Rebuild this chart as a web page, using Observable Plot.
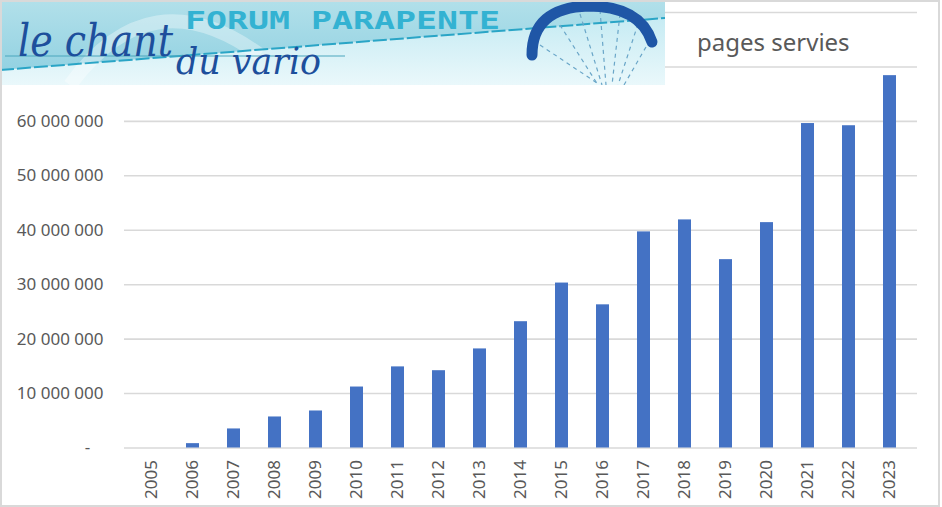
<!DOCTYPE html>
<html>
<head>
<meta charset="utf-8">
<script src="https://cdn.jsdelivr.net/npm/d3@7"></script>
<script src="https://cdn.jsdelivr.net/npm/@observablehq/plot@0.6"></script>
<style>
  html, body { margin: 0; padding: 0; background: #fff; }
  #wrap { position: relative; width: 942px; height: 507px; overflow: hidden; font-family: "Noto Sans", sans-serif; }
  #frame { position: absolute; left: 0; top: 0; width: 940px; height: 507px; box-sizing: border-box; border: 2px solid #d9d9d9; pointer-events: none; }
  #chart { position: absolute; left: 0; top: 0; }
  #banner { position: absolute; left: 0; top: 0; }
  #title { position: absolute; left: 697px; top: 25px; font-size: 24px; color: #595959; font-family: "Noto Sans", sans-serif; white-space: nowrap; }
</style>
</head>
<body>
<div id="wrap">
  <div id="chart"></div>
  <svg id="banner" width="665" height="85" viewBox="0 0 665 85">
    <defs>
      <linearGradient id="bgTop" x1="0" y1="0" x2="0" y2="1">
        <stop offset="0" stop-color="#b2e0ea"/>
        <stop offset="1" stop-color="#8dcfe0"/>
      </linearGradient>
      <linearGradient id="bgLow" x1="0" y1="0" x2="0" y2="1">
        <stop offset="0" stop-color="#c6ebf3"/>
        <stop offset="1" stop-color="#eaf8fb"/>
      </linearGradient>
    </defs>
    <rect x="0" y="0" width="665" height="85" fill="url(#bgTop)"/>
    <polygon points="0,70 665,18 665,85 0,85" fill="url(#bgLow)"/>
    <path d="M70 85 Q 150 -25 260 55" fill="none" stroke="#ffffff" stroke-opacity="0.35" stroke-width="14"/>
    <line x1="0" y1="70" x2="665" y2="18" stroke="#2aa5c6" stroke-width="2" stroke-dasharray="14 3"/>
    <line x1="5" y1="56" x2="345" y2="56" stroke="#4aa6bd" stroke-width="1"/>
    <text x="185" y="29" font-family="DejaVu Sans Mono" font-weight="bold" font-size="24" fill="#33b2d2" textLength="315" lengthAdjust="spacingAndGlyphs">FORUM PARAPENTE</text>
    <text x="18" y="56" font-family="DejaVu Serif" font-style="italic" font-size="44" fill="#1d4f9c" textLength="155" lengthAdjust="spacingAndGlyphs">le chant</text>
    <text x="176" y="74" font-family="DejaVu Serif" font-style="italic" font-size="38" fill="#1d4f9c" textLength="145" lengthAdjust="spacingAndGlyphs">du vario</text>
    <g stroke="#6aa6c8" stroke-width="1.2" stroke-dasharray="4 4" fill="none">
      <line x1="540" y1="45" x2="600" y2="85"/>
      <line x1="560" y1="25" x2="598" y2="85"/>
      <line x1="580" y1="14" x2="602" y2="85"/>
      <line x1="600" y1="10" x2="606" y2="85"/>
      <line x1="620" y1="14" x2="612" y2="85"/>
      <line x1="638" y1="24" x2="618" y2="85"/>
      <line x1="650" y1="40" x2="624" y2="85"/>
    </g>
    <path d="M532 55 Q 532 8 588 6 Q 640 6 652 42" fill="none" stroke="#1f56a6" stroke-width="11" stroke-linecap="round"/>
  </svg>
  <div id="title">pages servies</div>
  <div id="frame"></div>
</div>
<script>
const years = ["2005","2006","2007","2008","2009","2010","2011","2012","2013","2014","2015","2016","2017","2018","2019","2020","2021","2022","2023"];
const pages = [0, 800000, 3500000, 5700000, 6800000, 11200000, 14900000, 14200000, 18200000, 23200000, 30300000, 26300000, 39700000, 41900000, 34600000, 41400000, 59600000, 59200000, 68400000];
const yTickValues = [0, 10000000, 20000000, 30000000, 40000000, 50000000, 60000000];
const gridValues = [0, 10000000, 20000000, 30000000, 40000000, 50000000, 60000000, 70000000, 80000000];

const data = years.map((year, i) => ({year, pages: pages[i]}));
const fmt = v => v === 0 ? "-\u00a0\u00a0\u00a0" : d3.format(",")(v).replace(/,/g, " ");

const chart = Plot.plot({
  width: 942,
  height: 507,
  marginLeft: 124,
  marginRight: 25,
  marginTop: 12,
  marginBottom: 59.5,
  style: {fontFamily: "Noto Sans, sans-serif", fontSize: "17px", color: "#595959", background: "transparent"},
  x: {domain: years, paddingInner: 0.695, paddingOuter: 0.35, label: null},
  y: {domain: [0, 80000000], label: null},
  marks: [
    Plot.ruleY(gridValues, {stroke: "#d9d9d9", strokeWidth: 1.6}),
    Plot.barY(data, {x: "year", y: "pages", fill: "#4472c4"}),
    Plot.axisY(yTickValues, {tickSize: 0, tickPadding: 21, tickFormat: fmt, fontSize: 17, label: null}),
    Plot.axisX({tickSize: 0, tickRotate: -90, tickPadding: 12, fontSize: 17, label: null})
  ]
});
document.getElementById("chart").appendChild(chart);
</script>
</body>
</html>
